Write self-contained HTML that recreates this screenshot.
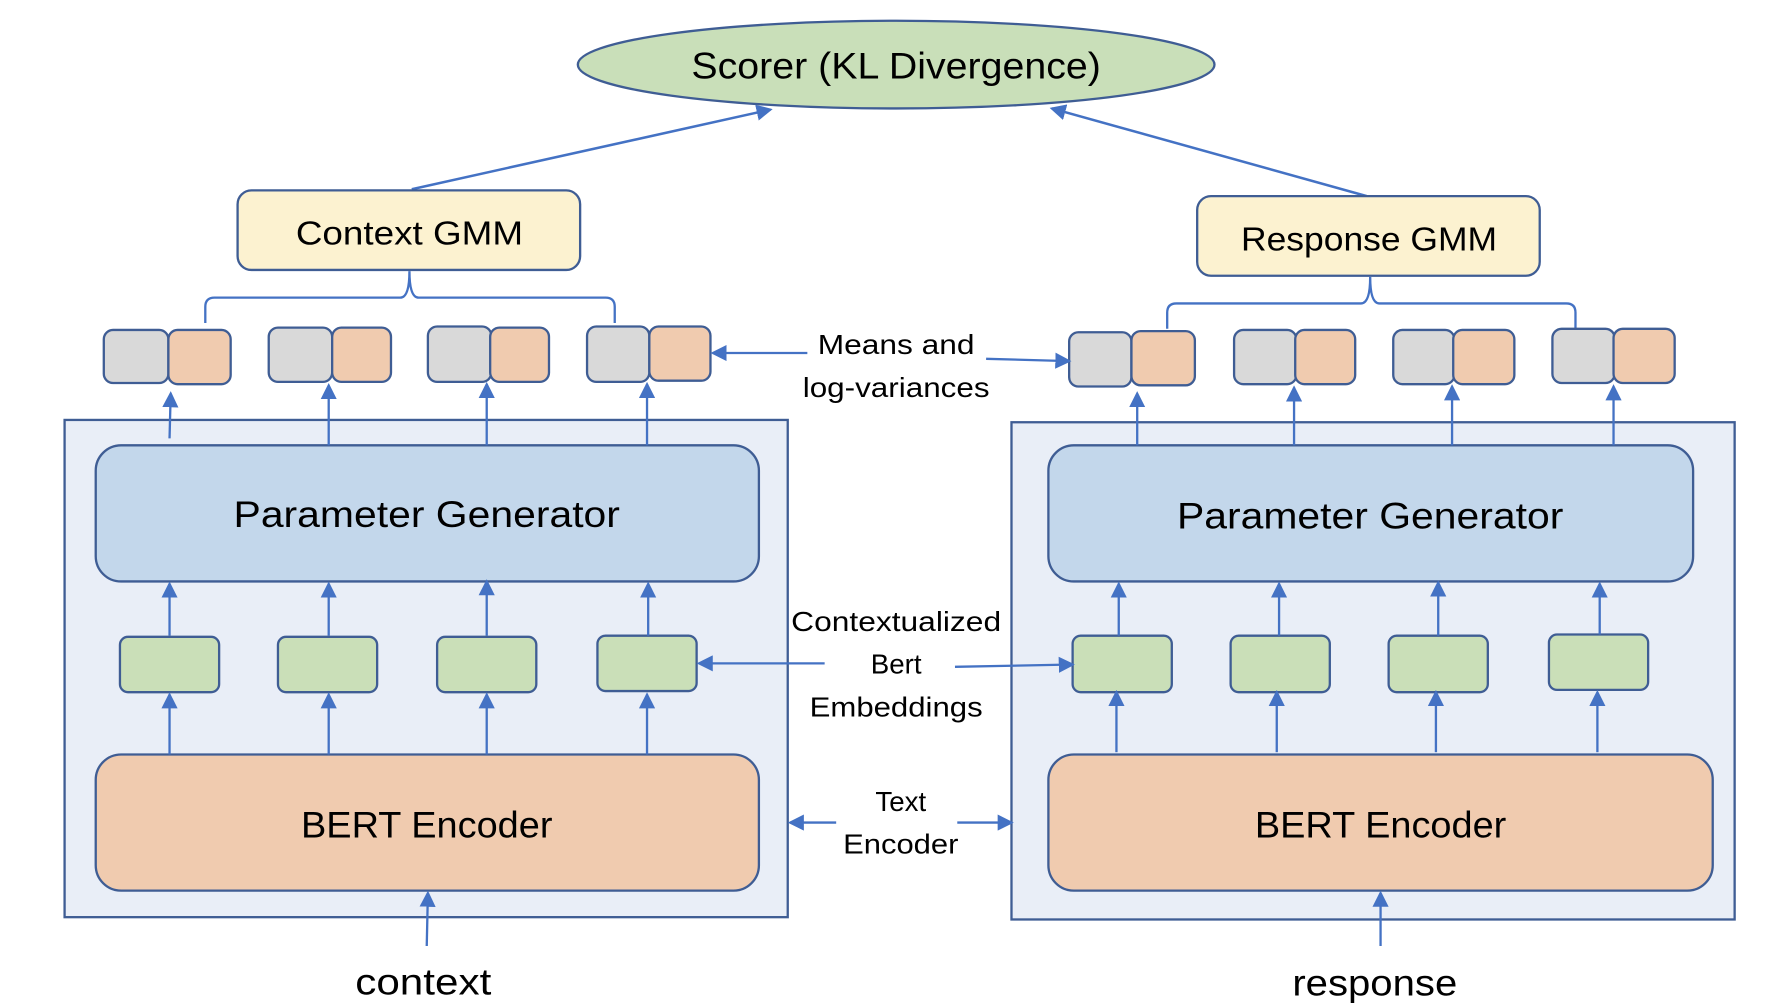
<!DOCTYPE html>
<html><head><meta charset="utf-8"><style>html,body{margin:0;padding:0;background:#fff}svg{display:block}</style></head>
<body>
<svg width="1790" height="1006" viewBox="0 0 1552 872" preserveAspectRatio="none" xmlns="http://www.w3.org/2000/svg" font-family="'Liberation Sans', sans-serif">
<defs>
<marker id="a" markerWidth="10" markerHeight="10" refX="9" refY="5" orient="auto" markerUnits="userSpaceOnUse" viewBox="0 0 10 10"><path d="M0,0 L10,5 L0,10 z" fill="#4472c4"/></marker>
<marker id="b" markerWidth="14" markerHeight="14" refX="12" refY="7" orient="auto" markerUnits="userSpaceOnUse" viewBox="0 0 14 14"><path d="M0,0 L14,7 L0,14 z" fill="#4472c4"/></marker>
</defs>
<g stroke="#4472c4" stroke-width="2.2" fill="none" marker-end="url(#b)">
<!-- top lines -->
<line x1="357" y1="164" x2="668" y2="95"/>
<line x1="1185" y1="170" x2="912" y2="94"/>
</g>
<ellipse cx="777" cy="56" rx="276" ry="38" fill="#c9dfb9" stroke="#3f5d94" stroke-width="2"/>
<text x="777" y="68" font-size="32" text-anchor="middle" textLength="355" lengthAdjust="spacingAndGlyphs">Scorer (KL Divergence)</text>
<rect x="206" y="165" width="297" height="69" rx="12" fill="#fcf2d0" stroke="#3f5d94" stroke-width="2"/>
<text x="355" y="212" font-size="29" text-anchor="middle" textLength="197" lengthAdjust="spacingAndGlyphs">Context GMM</text>
<rect x="1038" y="170" width="297" height="69" rx="12" fill="#fcf2d0" stroke="#3f5d94" stroke-width="2"/>
<text x="1187" y="217" font-size="29" text-anchor="middle" textLength="222" lengthAdjust="spacingAndGlyphs">Response GMM</text>
<!-- braces -->
<path d="M178,280 L178,266 Q178,258 186,258 L347,258 Q355,258 355,235 Q355,258 363,258 L525,258 Q533,258 533,266 L533,280" stroke="#4472c4" stroke-width="2" fill="none"/>
<path d="M1012,285 L1012,271 Q1012,263 1020,263 L1180,263 Q1188,263 1188,240 Q1188,263 1196,263 L1358,263 Q1366,263 1366,271 L1366,285" stroke="#4472c4" stroke-width="2" fill="none"/>
<!-- outer boxes -->
<rect x="56" y="364" width="627" height="431" fill="#e9eef7" stroke="#3f5d94" stroke-width="2"/>
<rect x="877" y="366" width="627" height="431" fill="#e9eef7" stroke="#3f5d94" stroke-width="2"/>
<rect x="83" y="386" width="575" height="118" rx="22" fill="#c3d7eb" stroke="#3f5d94" stroke-width="2"/>
<rect x="909" y="386" width="559" height="118" rx="22" fill="#c3d7eb" stroke="#3f5d94" stroke-width="2"/>
<text x="370" y="457" font-size="32" text-anchor="middle" textLength="335" lengthAdjust="spacingAndGlyphs">Parameter Generator</text>
<text x="1188" y="458" font-size="32" text-anchor="middle" textLength="335" lengthAdjust="spacingAndGlyphs">Parameter Generator</text>
<rect x="83" y="654" width="575" height="118" rx="22" fill="#f0cbaf" stroke="#3f5d94" stroke-width="2"/>
<rect x="909" y="654" width="576" height="118" rx="22" fill="#f0cbaf" stroke="#3f5d94" stroke-width="2"/>
<text x="370" y="726" font-size="32" text-anchor="middle" textLength="218" lengthAdjust="spacingAndGlyphs">BERT Encoder</text>
<text x="1197" y="726" font-size="32" text-anchor="middle" textLength="218" lengthAdjust="spacingAndGlyphs">BERT Encoder</text>
<!-- green boxes -->
<g fill="#cadfb8" stroke="#3f5d94" stroke-width="2">
<rect x="104" y="552" width="86" height="48" rx="7"/>
<rect x="241" y="552" width="86" height="48" rx="7"/>
<rect x="379" y="552" width="86" height="48" rx="7"/>
<rect x="518" y="551" width="86" height="48" rx="7"/>
<rect x="930" y="551" width="86" height="49" rx="7"/>
<rect x="1067" y="551" width="86" height="49" rx="7"/>
<rect x="1204" y="551" width="86" height="49" rx="7"/>
<rect x="1343" y="550" width="86" height="48" rx="7"/>
</g>
<!-- pairs -->
<g stroke="#3f5d94" stroke-width="2">
<rect x="90" y="286" width="56" height="46" rx="8" fill="#d9d9d9"/><rect x="146" y="286" width="54" height="47" rx="8" fill="#f0cbaf"/>
<rect x="233" y="284" width="55" height="47" rx="8" fill="#d9d9d9"/><rect x="288" y="284" width="51" height="47" rx="8" fill="#f0cbaf"/>
<rect x="371" y="283" width="55" height="48" rx="8" fill="#d9d9d9"/><rect x="425" y="284" width="51" height="47" rx="8" fill="#f0cbaf"/>
<rect x="509" y="283" width="54" height="48" rx="8" fill="#d9d9d9"/><rect x="563" y="283" width="53" height="47" rx="8" fill="#f0cbaf"/>
<rect x="927" y="288" width="54" height="47" rx="8" fill="#d9d9d9"/><rect x="981" y="287" width="55" height="47" rx="8" fill="#f0cbaf"/>
<rect x="1070" y="286" width="54" height="47" rx="8" fill="#d9d9d9"/><rect x="1123" y="286" width="52" height="47" rx="8" fill="#f0cbaf"/>
<rect x="1208" y="286" width="53" height="47" rx="8" fill="#d9d9d9"/><rect x="1260" y="286" width="53" height="47" rx="8" fill="#f0cbaf"/>
<rect x="1346" y="285" width="54" height="47" rx="8" fill="#d9d9d9"/><rect x="1399" y="285" width="53" height="47" rx="8" fill="#f0cbaf"/>
</g>
<!-- vertical arrows -->
<g stroke="#4472c4" stroke-width="2" fill="none" marker-end="url(#b)">
<line x1="147" y1="380" x2="148" y2="341"/><line x1="285" y1="386" x2="285" y2="334"/><line x1="422" y1="386" x2="422" y2="333"/><line x1="561" y1="386" x2="561" y2="333"/>
<line x1="147" y1="551" x2="147" y2="506"/><line x1="285" y1="551" x2="285" y2="506"/><line x1="422" y1="551" x2="422" y2="504"/><line x1="562" y1="551" x2="562" y2="506"/>
<line x1="147" y1="654" x2="147" y2="602"/><line x1="285" y1="654" x2="285" y2="602"/><line x1="422" y1="654" x2="422" y2="602"/><line x1="561" y1="654" x2="561" y2="602"/>
<line x1="370" y1="820" x2="371" y2="774"/>
<line x1="986" y1="386" x2="986" y2="341"/><line x1="1122" y1="386" x2="1122" y2="336"/><line x1="1259" y1="386" x2="1259" y2="335"/><line x1="1399" y1="386" x2="1399" y2="335"/>
<line x1="970" y1="551" x2="970" y2="506"/><line x1="1109" y1="551" x2="1109" y2="506"/><line x1="1247" y1="551" x2="1247" y2="505"/><line x1="1387" y1="550" x2="1387" y2="506"/>
<line x1="968" y1="652" x2="968" y2="600"/><line x1="1107" y1="652" x2="1107" y2="600"/><line x1="1245" y1="652" x2="1245" y2="600"/><line x1="1385" y1="652" x2="1385" y2="600"/>
<line x1="1197" y1="820" x2="1197" y2="774"/>
<!-- label arrows -->
<line x1="700" y1="306" x2="618" y2="306"/><line x1="855" y1="311" x2="927" y2="313"/>
<line x1="715" y1="575" x2="606" y2="575"/><line x1="828" y1="578" x2="930" y2="576"/>
<line x1="725" y1="713" x2="685" y2="713"/><line x1="830" y1="713" x2="877" y2="713"/>
</g>
<g font-size="24" text-anchor="middle">
<text x="777" y="307" textLength="136" lengthAdjust="spacingAndGlyphs">Means and</text>
<text x="777" y="344" textLength="162" lengthAdjust="spacingAndGlyphs">log-variances</text>
<text x="777" y="547" textLength="182" lengthAdjust="spacingAndGlyphs">Contextualized</text>
<text x="777" y="584">Bert</text>
<text x="777" y="621" textLength="150" lengthAdjust="spacingAndGlyphs">Embeddings</text>
<text x="781" y="703">Text</text>
<text x="781" y="740" textLength="100" lengthAdjust="spacingAndGlyphs">Encoder</text>
</g>
<text x="367" y="862" font-size="32" text-anchor="middle" textLength="118" lengthAdjust="spacingAndGlyphs">context</text>
<text x="1192" y="863" font-size="32" text-anchor="middle" textLength="143" lengthAdjust="spacingAndGlyphs">response</text>
</svg>
</body></html>
